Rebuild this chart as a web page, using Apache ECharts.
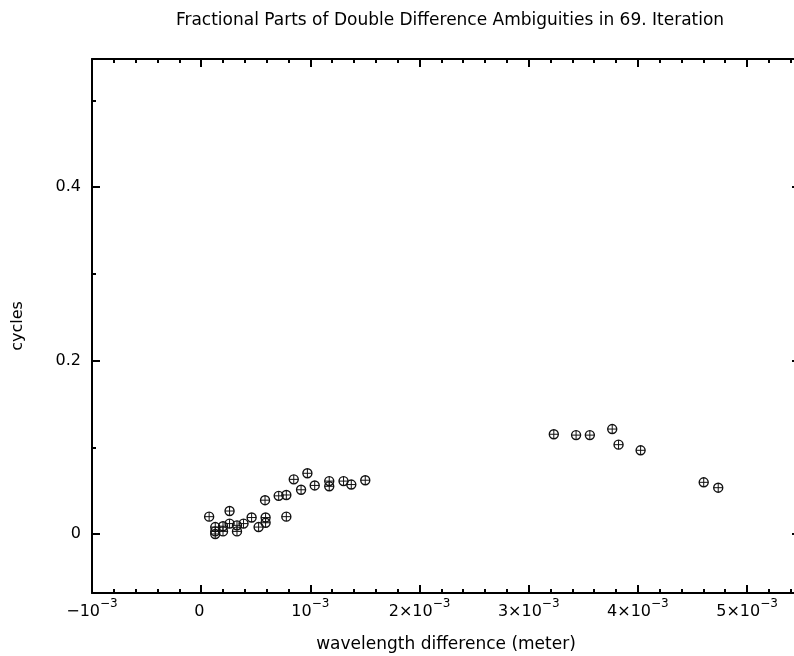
<!DOCTYPE html>
<html><head><meta charset="utf-8">
<script src="https://cdn.jsdelivr.net/npm/echarts@6/dist/echarts.min.js"></script>
<style>html,body{margin:0;padding:0;background:#fff}#c{width:794px;height:656px}</style>
</head><body><div id="c"></div>
<script>
const titleText = 'Fractional Parts of Double Difference Ambiguities in 69. Iteration';
const xName = 'wavelength difference (meter)';
const yName = 'cycles';
const xTickValues = [-0.001, 0, 0.001, 0.002, 0.003, 0.004, 0.005];
const xTickLabels = ['−10^−3', '0', '10^−3', '2×10^−3', '3×10^−3', '4×10^−3', '5×10^−3'];
const yMajorTicks = [0, 0.2, 0.4];
const yTickLabels = ['0', '0.2', '0.4'];
const yMinorTicks = [0.1, 0.3, 0.5];

// wavelength difference (meter)
const xValues = [
  0.073e-3, 0.26e-3, 0.129e-3, 0.129e-3, 0.129e-3, 0.20e-3, 0.20e-3, 0.26e-3,
  0.328e-3, 0.328e-3, 0.388e-3, 0.462e-3, 0.526e-3, 0.59e-3, 0.59e-3, 0.585e-3,
  0.71e-3, 0.78e-3, 0.78e-3, 0.848e-3, 0.915e-3, 0.973e-3, 1.04e-3, 1.173e-3,
  1.173e-3, 1.304e-3, 1.375e-3, 1.503e-3,
  3.23e-3, 3.434e-3, 3.56e-3, 3.765e-3, 3.823e-3, 4.025e-3, 4.603e-3, 4.736e-3
];
// fractional part (cycles)
const yValues = [
  0.020, 0.0265, 0.008, 0.003, 0.000, 0.009, 0.003, 0.012,
  0.010, 0.003, 0.012, 0.019, 0.008, 0.019, 0.013, 0.039,
  0.044, 0.045, 0.020, 0.063, 0.051, 0.070, 0.056, 0.061,
  0.055, 0.061, 0.057, 0.062,
  0.115, 0.114, 0.114, 0.121, 0.103, 0.0965, 0.0596, 0.0534
];

const FONT = 'DejaVu Sans';
const X_MIN = -0.001, X_MAX = 0.005485;
const Y_MIN = -0.068, Y_MAX = 0.5476;

function xLabel(v) {
  let idx = xTickValues.findIndex(t => Math.abs(t - v) < 1e-9);
  if (idx < 0) return '';
  const s = xTickLabels[idx];
  const parts = s.split('^');
  if (parts.length === 1) return '{b|' + parts[0] + '}{s| }';
  return '{b|' + parts[0] + '}{s|' + parts[1] + '}';
}
function yLabel(v) {
  let idx = yMajorTicks.findIndex(t => Math.abs(t - v) < 1e-9);
  return idx < 0 ? '' : yTickLabels[idx];
}

const axisLineStyle = { color: '#000', width: 2 };
const tickLine = { color: '#000', width: 2 };

const chart = echarts.init(document.getElementById('c'), null, { renderer: 'canvas' });
chart.setOption({
  backgroundColor: '#fff',
  animation: false,
  graphic: [{
    type: 'text', x: 450, y: 21,
    style: { text: titleText, align: 'center', verticalAlign: 'middle', font: '17px "DejaVu Sans"', fill: '#000' }
  }],
  grid: { left: 92, top: 59, width: 708, height: 534, containLabel: false, outerBoundsMode: 'none' },
  xAxis: [{
    type: 'value', position: 'bottom', min: X_MIN, max: X_MAX, interval: 0.001,
    axisLine: { show: true, onZero: false, lineStyle: axisLineStyle },
    axisTick: { show: true, inside: true, length: 8, lineStyle: tickLine },
    minorTick: { show: true, splitNumber: 5, length: 4, lineStyle: tickLine },
    splitLine: { show: false },
    axisLabel: {
      show: true, margin: 5, formatter: xLabel, showMinLabel: true, showMaxLabel: false,
      rich: {
        b: { fontFamily: FONT, fontSize: 16, color: '#000', verticalAlign: 'bottom' },
        s: { fontFamily: FONT, fontSize: 12, color: '#000', verticalAlign: 'top', padding: [0, 0, 10, 0] }
      }
    },
    name: xName, nameLocation: 'middle', nameGap: 43,
    nameTextStyle: { fontFamily: FONT, fontSize: 17, color: '#000' }
  }, {
    type: 'value', position: 'top', min: X_MIN, max: X_MAX, interval: 0.001,
    axisLine: { show: true, onZero: false, lineStyle: axisLineStyle },
    axisTick: { show: true, inside: true, length: 8, lineStyle: tickLine },
    minorTick: { show: true, splitNumber: 5, length: 4, lineStyle: tickLine },
    splitLine: { show: false },
    axisLabel: { show: false }
  }],
  yAxis: [{
    type: 'value', position: 'left', min: Y_MIN, max: Y_MAX,
    axisLine: { show: true, onZero: false, lineStyle: axisLineStyle },
    axisTick: { show: true, inside: true, length: 8, lineStyle: tickLine, customValues: yMajorTicks },
    splitLine: { show: false },
    axisLabel: { show: true, customValues: yMajorTicks, formatter: yLabel, margin: 11,
      fontFamily: FONT, fontSize: 16, color: '#000' },
    name: yName, nameLocation: 'middle', nameGap: 66, nameRotate: 90,
    nameTextStyle: { fontFamily: FONT, fontSize: 16, color: '#000' }
  }, {
    type: 'value', position: 'left', min: Y_MIN, max: Y_MAX,
    axisLine: { show: false, onZero: false },
    axisTick: { show: true, inside: true, length: 4, lineStyle: tickLine, customValues: yMinorTicks },
    splitLine: { show: false },
    axisLabel: { show: false }
  }, {
    type: 'value', position: 'right', min: Y_MIN, max: Y_MAX,
    axisLine: { show: true, onZero: false, lineStyle: axisLineStyle },
    axisTick: { show: true, inside: true, length: 8, lineStyle: tickLine, customValues: yMajorTicks },
    splitLine: { show: false },
    axisLabel: { show: false }
  }, {
    type: 'value', position: 'right', min: Y_MIN, max: Y_MAX,
    axisLine: { show: false, onZero: false },
    axisTick: { show: true, inside: true, length: 4, lineStyle: tickLine, customValues: yMinorTicks },
    splitLine: { show: false },
    axisLabel: { show: false }
  }],
  series: [{
    type: 'custom',
    coordinateSystem: 'cartesian2d',
    xAxisIndex: 0, yAxisIndex: 0,
    data: xValues.map((x, i) => [x, yValues[i]]),
    renderItem: function (params, api) {
      const p = api.coord([api.value(0), api.value(1)]);
      const r = 4.5;
      return {
        type: 'group',
        children: [
          { type: 'circle', shape: { cx: p[0], cy: p[1], r: r }, style: { stroke: '#111', fill: 'rgba(0,0,0,0)', lineWidth: 1.4 } },
          { type: 'line', shape: { x1: p[0] - r, y1: p[1], x2: p[0] + r, y2: p[1] }, style: { stroke: '#111', lineWidth: 1 } },
          { type: 'line', shape: { x1: p[0], y1: p[1] - r, x2: p[0], y2: p[1] + r }, style: { stroke: '#111', lineWidth: 1 } }
        ]
      };
    }
  }]
});
</script>
</body></html>
